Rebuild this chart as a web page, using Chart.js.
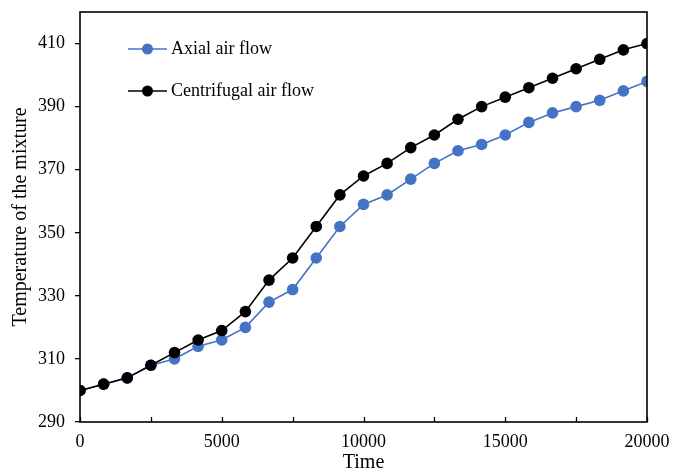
<!DOCTYPE html>
<html>
<head>
<meta charset="utf-8">
<script src="https://cdn.jsdelivr.net/npm/chart.js@4/dist/chart.umd.min.js"></script>
<style>
  html, body { margin: 0; padding: 0; background: #fff; }
  #wrap { width: 686px; height: 475px; position: relative; }
</style>
</head>
<body>
<div id="wrap"><canvas id="c" width="686" height="475"></canvas></div>
<script>
const timeValues = [0, 833, 1667, 2500, 3333, 4167, 5000, 5833, 6667, 7500, 8333, 9167, 10000,
  10833, 11667, 12500, 13333, 14167, 15000, 15833, 16667, 17500, 18333, 19167, 20000];
const axialFlow = [300, 302, 304, 308, 310, 314, 316, 320, 328, 332, 342, 352, 359,
  362, 367, 372, 376, 378, 381, 385, 388, 390, 392, 395, 398];
const centrifugalFlow = [300, 302, 304, 308, 312, 316, 319, 325, 335, 342, 352, 362, 368,
  372, 377, 381, 386, 390, 393, 396, 399, 402, 405, 408, 410];
const seriesNames = ['Axial air flow', 'Centrifugal air flow'];
const yTickValues = [290, 310, 330, 350, 370, 390, 410];
const xTickValues = [0, 2500, 5000, 7500, 10000, 12500, 15000, 17500, 20000];
const xLabelValues = [0, 5000, 10000, 15000, 20000];
const xTitle = 'Time';
const yTitle = 'Temperature of the mixture';

const FONT = "'Times New Roman', 'Liberation Serif', serif";
const BLUE = '#4472C4';

const toPoints = (ys) => ys.map((y, i) => ({ x: timeValues[i], y }));

const framePlugin = {
  id: 'frame',
  afterDatasetsDraw(chart) {
    const { ctx, chartArea: a } = chart;
    const xs = chart.scales.x;
    ctx.save();
    // inward x tick marks
    ctx.strokeStyle = '#000';
    ctx.lineWidth = 1.3;
    xs.ticks.forEach(t => {
      const px = Math.round(xs.getPixelForValue(t.value)) + 0.5;
      ctx.beginPath();
      ctx.moveTo(px, a.bottom);
      ctx.lineTo(px, a.bottom - 5);
      ctx.stroke();
    });
    // plot frame
    ctx.lineWidth = 1.6;
    ctx.strokeRect(a.left, a.top, a.right - a.left, a.bottom - a.top);
    // legend inside plot
    const rows = [49, 91];
    chart.data.datasets.forEach((ds, i) => {
      const y = rows[i];
      ctx.strokeStyle = ds.borderColor;
      ctx.lineWidth = 1.6;
      ctx.beginPath();
      ctx.moveTo(128, y);
      ctx.lineTo(167, y);
      ctx.stroke();
      ctx.fillStyle = ds.backgroundColor;
      ctx.beginPath();
      ctx.arc(147.5, y, 5.5, 0, Math.PI * 2);
      ctx.fill();
      ctx.fillStyle = '#000';
      ctx.font = '18px ' + FONT;
      ctx.textAlign = 'left';
      ctx.textBaseline = 'middle';
      ctx.fillText(ds.label, 171, y);
    });
    ctx.restore();
  }
};

new Chart(document.getElementById('c'), {
  type: 'line',
  data: {
    datasets: [
      {
        label: seriesNames[0],
        data: toPoints(axialFlow),
        borderColor: BLUE,
        backgroundColor: BLUE,
        pointBackgroundColor: BLUE,
        pointBorderColor: BLUE,
        pointRadius: 5.8,
        pointBorderWidth: 0,
        borderWidth: 1.6,
        tension: 0,
        order: 1
      },
      {
        label: seriesNames[1],
        data: toPoints(centrifugalFlow),
        borderColor: '#000000',
        backgroundColor: '#000000',
        pointBackgroundColor: '#000000',
        pointBorderColor: '#000000',
        pointRadius: 5.8,
        pointBorderWidth: 0,
        borderWidth: 1.6,
        tension: 0,
        order: 0
      }
    ]
  },
  options: {
    responsive: false,
    animation: false,
    devicePixelRatio: 1,
    layout: { padding: { left: 0, right: 39, top: 12, bottom: 0 } },
    plugins: { legend: { display: false }, tooltip: { enabled: false } },
    scales: {
      x: {
        type: 'linear',
        min: 0,
        max: 20000,
        afterBuildTicks: (s) => { s.ticks = xTickValues.map(v => ({ value: v })); },
        afterFit: (s) => { s.height = 53; },
        border: { display: false },
        grid: { display: false, drawTicks: false },
        ticks: {
          autoSkip: false,
          maxRotation: 0,
          padding: 9,
          color: '#000',
          font: { family: FONT, size: 18 },
          callback: (v) => xLabelValues.includes(v) ? String(v) : ''
        },
        title: {
          display: true,
          text: xTitle,
          color: '#000',
          font: { family: FONT, size: 20 },
          padding: { top: 0, bottom: 0 }
        }
      },
      y: {
        type: 'linear',
        min: 290,
        max: 420,
        afterBuildTicks: (s) => { s.ticks = yTickValues.map(v => ({ value: v })); },
        afterFit: (s) => { s.width = 80; s.paddingTop = 0; s.paddingBottom = 0; },
        border: { display: false },
        grid: { drawOnChartArea: false, drawTicks: true, tickLength: 5, color: '#000', lineWidth: 1.3 },
        ticks: {
          padding: 10,
          color: '#000',
          font: { family: FONT, size: 18 },
          callback: (v) => String(v)
        },
        title: {
          display: true,
          text: yTitle,
          color: '#000',
          font: { family: FONT, size: 20 },
          padding: { top: 9, bottom: 0 }
        }
      }
    }
  },
  plugins: [framePlugin]
});
</script>
</body>
</html>
